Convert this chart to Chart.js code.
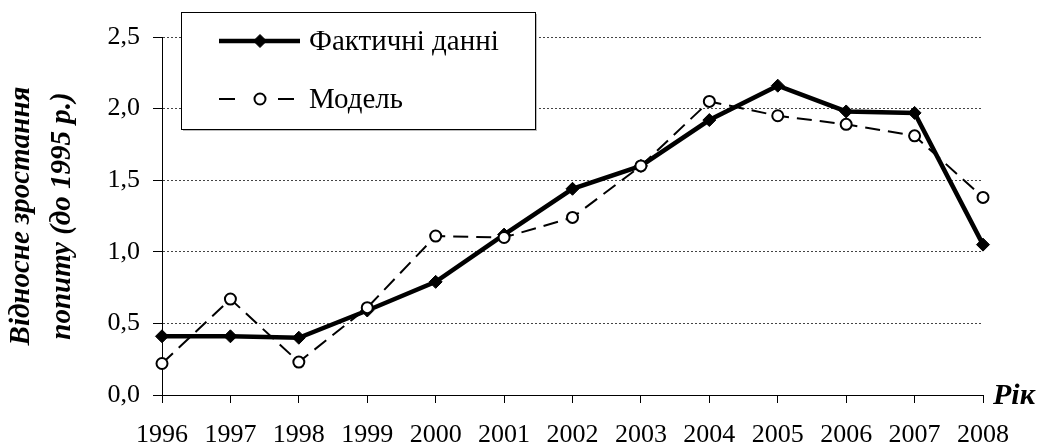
<!DOCTYPE html>
<html>
<head>
<meta charset="utf-8">
<script src="https://cdn.jsdelivr.net/npm/chart.js@4"></script>
<style>
  html, body { margin: 0; padding: 0; background: #fff; }
  #wrap { width: 1040px; height: 447px; }
</style>
</head>
<body>
<div id="wrap"><canvas id="chart" width="1040" height="447"></canvas></div>
<script>
const years = ['1996', '1997', '1998', '1999', '2000', '2001', '2002', '2003', '2004', '2005', '2006', '2007', '2008'];
const actualValues = [0.41, 0.41, 0.40, 0.59, 0.79, 1.12, 1.44, 1.60, 1.92, 2.16, 1.98, 1.97, 1.05];
const modelValues = [0.22, 0.67, 0.23, 0.61, 1.11, 1.10, 1.24, 1.60, 2.05, 1.95, 1.89, 1.81, 1.38];
const seriesNames = ['Фактичні данні', 'Модель'];
const yTitle = ['Відносне зростання', 'попиту (до 1995 р.)'];
const xTitle = 'Рік';

const SERIF = "'Liberation Serif', 'Times New Roman', serif";

// legend box + "Рік" label, drawn on top of the chart
const overlay = {
    id: 'overlay',
    afterDraw(chart) {
        const ctx = chart.ctx;
        const area = chart.chartArea;
        const sets = chart.data.datasets;

        ctx.save();
        // legend frame
        const bx = 181, by = 12, bw = 354, bh = 117;
        ctx.fillStyle = '#bbb';
        ctx.fillRect(bx + 2, by + 2, bw, bh);
        ctx.fillStyle = '#fff';
        ctx.fillRect(bx, by, bw, bh);
        ctx.strokeStyle = '#000';
        ctx.lineWidth = 1;
        ctx.strokeRect(bx + 0.5, by + 0.5, bw, bh);

        const rows = [41, 99];
        const mx = 260;
        sets.forEach((ds, i) => {
            const y = rows[i];
            ctx.strokeStyle = ds.borderColor;
            ctx.lineWidth = ds.borderWidth;
            ctx.beginPath();
            if (ds.borderDash) {
                // dash - marker - dash
                ctx.moveTo(219, y); ctx.lineTo(235, y);
                ctx.moveTo(278, y); ctx.lineTo(294, y);
            } else {
                ctx.moveTo(219, y); ctx.lineTo(300, y);
            }
            ctx.stroke();

            const r = ds.pointRadius;
            ctx.beginPath();
            if (ds.pointStyle === 'rectRot') {
                ctx.moveTo(mx, y - r);
                ctx.lineTo(mx + r, y);
                ctx.lineTo(mx, y + r);
                ctx.lineTo(mx - r, y);
                ctx.closePath();
            } else {
                ctx.arc(mx, y, r, 0, Math.PI * 2);
            }
            ctx.fillStyle = ds.pointBackgroundColor;
            ctx.fill();
            ctx.lineWidth = ds.pointBorderWidth;
            ctx.strokeStyle = ds.pointBorderColor;
            ctx.stroke();

            ctx.fillStyle = '#000';
            ctx.font = '29px ' + SERIF;
            ctx.textAlign = 'left';
            ctx.textBaseline = 'middle';
            ctx.fillText(ds.label, 309, y + 1);
        });

        // x axis title at the end of the axis
        ctx.font = 'italic bold 30px ' + SERIF;
        ctx.textAlign = 'left';
        ctx.textBaseline = 'middle';
        ctx.fillStyle = '#000';
        ctx.fillText(xTitle, area.right + 10, area.bottom + 1);
        ctx.restore();
    }
};

const ctx = document.getElementById('chart').getContext('2d');
const chart = new Chart(ctx, {
    type: 'line',
    data: {
        labels: years,
        datasets: [{
            label: seriesNames[0],
            data: actualValues,
            borderColor: '#000',
            borderWidth: 4.5,
            pointStyle: 'rectRot',
            pointRadius: 6.5,
            pointBackgroundColor: '#000',
            pointBorderColor: '#000',
            pointBorderWidth: 1,
            tension: 0,
            clip: false,
            order: 1
        }, {
            label: seriesNames[1],
            data: modelValues,
            borderColor: '#000',
            borderWidth: 2,
            borderDash: [15, 8],
            pointStyle: 'circle',
            pointRadius: 5.5,
            pointBackgroundColor: '#fff',
            pointBorderColor: '#000',
            pointBorderWidth: 2,
            tension: 0,
            clip: false,
            order: 0
        }]
    },
    options: {
        responsive: false,
        animation: false,
        devicePixelRatio: 1,
        layout: { padding: { top: 37, right: 57, left: 0, bottom: 0 } },
        plugins: {
            legend: { display: false },
            tooltip: { enabled: false }
        },
        scales: {
            x: {
                offset: false,
                grid: {
                    drawOnChartArea: false,
                    drawTicks: true,
                    tickLength: 8,
                    tickColor: '#000',
                    tickWidth: 1
                },
                border: { display: true, color: '#000', width: 1 },
                ticks: {
                    color: '#000',
                    font: { family: SERIF, size: 26 },
                    padding: 17,
                    maxRotation: 0,
                    autoSkip: false
                },
                afterFit(scale) { scale.height = 52; }
            },
            y: {
                min: 0,
                max: 2.5,
                grid: {
                    color: '#444',
                    lineWidth: 1,
                    drawTicks: true,
                    tickLength: 9,
                    tickColor: '#000',
                    tickWidth: 1,
                    tickBorderDash: []
                },
                border: { display: true, color: '#000', width: 1, dash: [2, 2] },
                ticks: {
                    stepSize: 0.5,
                    color: '#000',
                    font: { family: SERIF, size: 26 },
                    padding: 13,
                    callback: v => v.toFixed(1).replace('.', ',')
                },
                title: {
                    display: true,
                    text: yTitle,
                    color: '#000',
                    font: { family: SERIF, size: 29, style: 'italic', weight: 'bold', lineHeight: 1.38 },
                    padding: { top: 2, bottom: 0 }
                },
                afterFit(scale) { scale.width = 162; }
            }
        }
    },
    plugins: [overlay]
});
</script>
</body>
</html>
